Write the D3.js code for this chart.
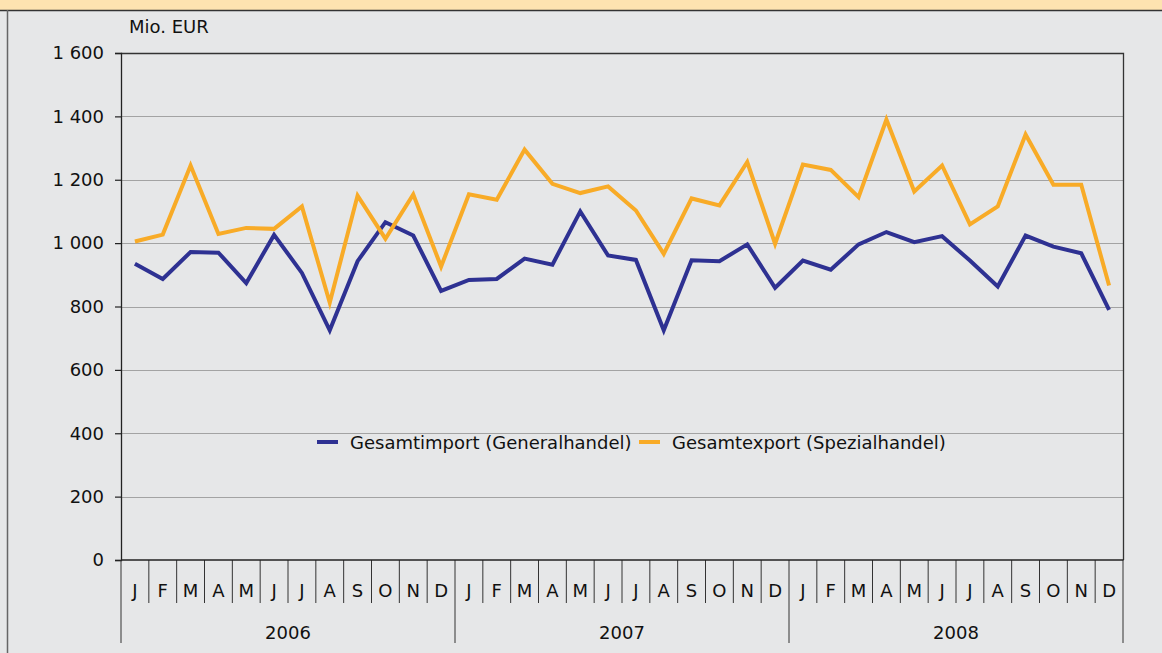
<!DOCTYPE html>
<html>
<head>
<meta charset="utf-8">
<script src="https://cdn.jsdelivr.net/npm/d3@7"></script>
<style>
  html, body { margin: 0; padding: 0; background: #e6e7e8; }
  svg { display: block; font-family: 'DejaVu Sans', sans-serif; }
</style>
</head>
<body>
<div id="chart"></div>
<script>
const years = ['2006', '2007', '2008']
const months = ['J', 'F', 'M', 'A', 'M', 'J', 'J', 'A', 'S', 'O', 'N', 'D']
const yTicks = [0, 200, 400, 600, 800, 1000, 1200, 1400, 1600]

// Mio. EUR, Jan 2006 .. Dez 2008
const importValues = [
  935, 887, 972, 970, 874, 1026, 906, 725, 943, 1066, 1024, 849,
  884, 887, 951, 932, 1100, 961, 947, 725, 946, 943, 996, 859,
  945, 916, 996, 1035, 1003, 1022, 945, 863, 1024, 989, 968, 789
]
const exportValues = [
  1005, 1027, 1245, 1029, 1048, 1045, 1116, 812, 1150, 1014, 1154, 926,
  1154, 1137, 1295, 1187, 1158, 1179, 1103, 966, 1141, 1119, 1256, 998,
  1248, 1231, 1145, 1390, 1163, 1245, 1059, 1116, 1343, 1184, 1184, 866
]
const seriesNames = ['Gesamtimport (Generalhandel)', 'Gesamtexport (Spezialhandel)']
const colors = ['#2e3192', '#f8ab27']

const fullWidth = 1162, fullHeight = 653
const plotLeft = 121, plotRight = 1123, plotTop = 53, plotBottom = 560
const fontSize = '18px'

const svg = d3.select('#chart')
  .append('svg')
    .attr('width', fullWidth)
    .attr('height', fullHeight)

// frame: orange band on top, dark rules
svg.append('rect')
  .attr('width', fullWidth).attr('height', fullHeight)
  .attr('fill', '#e6e7e8')
svg.append('rect')
  .attr('width', fullWidth).attr('height', 10)
  .attr('fill', '#fde3b0')
svg.append('line')
  .attr('x1', 0).attr('x2', fullWidth).attr('y1', 10.5).attr('y2', 10.5)
  .attr('stroke', '#333').attr('stroke-width', 1.5)
svg.append('line')
  .attr('x1', 7.5).attr('x2', 7.5).attr('y1', 10).attr('y2', fullHeight)
  .attr('stroke', '#666').attr('stroke-width', 1.5)

const keys = d3.range(years.length * months.length)

const x = d3.scaleBand()
  .domain(keys)
  .range([plotLeft, plotRight])

const y = d3.scaleLinear()
  .domain([0, 1600])
  .range([plotBottom, plotTop])

// gridlines
svg.append('g')
  .selectAll('line')
  .data(yTicks.filter(d => d > 0 && d < 1600))
  .join('line')
    .attr('x1', plotLeft).attr('x2', plotRight)
    .attr('y1', d => Math.round(y(d)) + 0.5)
    .attr('y2', d => Math.round(y(d)) + 0.5)
    .attr('stroke', '#a3a3a3')
    .attr('stroke-width', 1.2)

// top and right frame of the plot area
svg.append('path')
  .attr('d', `M${plotLeft},${y(1600) + 0.5}H${plotRight + 0.5}V${plotBottom}`)
  .attr('fill', 'none')
  .attr('stroke', '#333')
  .attr('stroke-width', 1.3)

// y axis
const yAxis = svg.append('g')
  .attr('transform', `translate(${plotLeft}, 0)`)
  .call(d3.axisLeft(y)
    .tickValues(yTicks)
    .tickSize(6)
    .tickPadding(11)
    .tickFormat(d => d3.format(',')(d).replace(',', ' ')))
yAxis.select('.domain').attr('stroke', '#222').attr('stroke-width', 1.3)
yAxis.selectAll('.tick line').attr('stroke', '#222').attr('stroke-width', 1.2)
yAxis.selectAll('.tick text')
  .attr('fill', '#111')
  .style('font-size', fontSize)
  .style('font-family', "'DejaVu Sans', sans-serif")

svg.append('text')
  .attr('x', 129).attr('y', 33)
  .attr('fill', '#111')
  .style('font-size', fontSize)
  .text('Mio. EUR')

// x axis: month cells and year groups
const xAxis = svg.append('g')
svg.append('line')
  .attr('x1', plotLeft).attr('x2', plotRight + 0.5)
  .attr('y1', plotBottom).attr('y2', plotBottom)
  .attr('stroke', '#222').attr('stroke-width', 1.5)

xAxis.selectAll('.sep')
  .data(keys.concat([keys.length]))
  .join('line')
    .attr('class', 'sep')
    .attr('x1', d => d < keys.length ? x(d) : plotRight)
    .attr('x2', d => d < keys.length ? x(d) : plotRight)
    .attr('y1', plotBottom)
    .attr('y2', d => d % 12 === 0 ? 643 : 603)
    .attr('stroke', '#333')
    .attr('stroke-width', 1)

xAxis.selectAll('.month')
  .data(keys)
  .join('text')
    .attr('class', 'month')
    .attr('x', d => x(d) + x.bandwidth() / 2)
    .attr('y', 597)
    .attr('text-anchor', 'middle')
    .attr('fill', '#111')
    .style('font-size', fontSize)
    .text(d => months[d % 12])

xAxis.selectAll('.year')
  .data(years)
  .join('text')
    .attr('class', 'year')
    .attr('x', (d, i) => x(i * 12) + x.bandwidth() * 6)
    .attr('y', 639)
    .attr('text-anchor', 'middle')
    .attr('fill', '#111')
    .style('font-size', fontSize)
    .text(d => d)

// lines
const line = d3.line()
  .x((d, i) => x(i) + x.bandwidth() / 2)
  .y(d => y(d))

svg.selectAll('.series')
  .data([importValues, exportValues])
  .join('path')
    .attr('class', 'series')
    .attr('d', d => line(d))
    .attr('fill', 'none')
    .attr('stroke', (d, i) => colors[i])
    .attr('stroke-width', 4)
    .attr('stroke-linejoin', 'miter')

// legend
const legendX = [317, 639]
const legend = svg.append('g')
  .selectAll('g')
  .data(seriesNames)
  .join('g')
    .attr('transform', (d, i) => `translate(${legendX[i]}, 442)`)
legend.append('line')
  .attr('x1', 0).attr('x2', 21)
  .attr('stroke', (d, i) => colors[i])
  .attr('stroke-width', 4)
legend.append('text')
  .attr('x', 33).attr('y', 6.5)
  .attr('fill', '#111')
  .style('font-size', fontSize)
  .text(d => d)
</script>
</body>
</html>
